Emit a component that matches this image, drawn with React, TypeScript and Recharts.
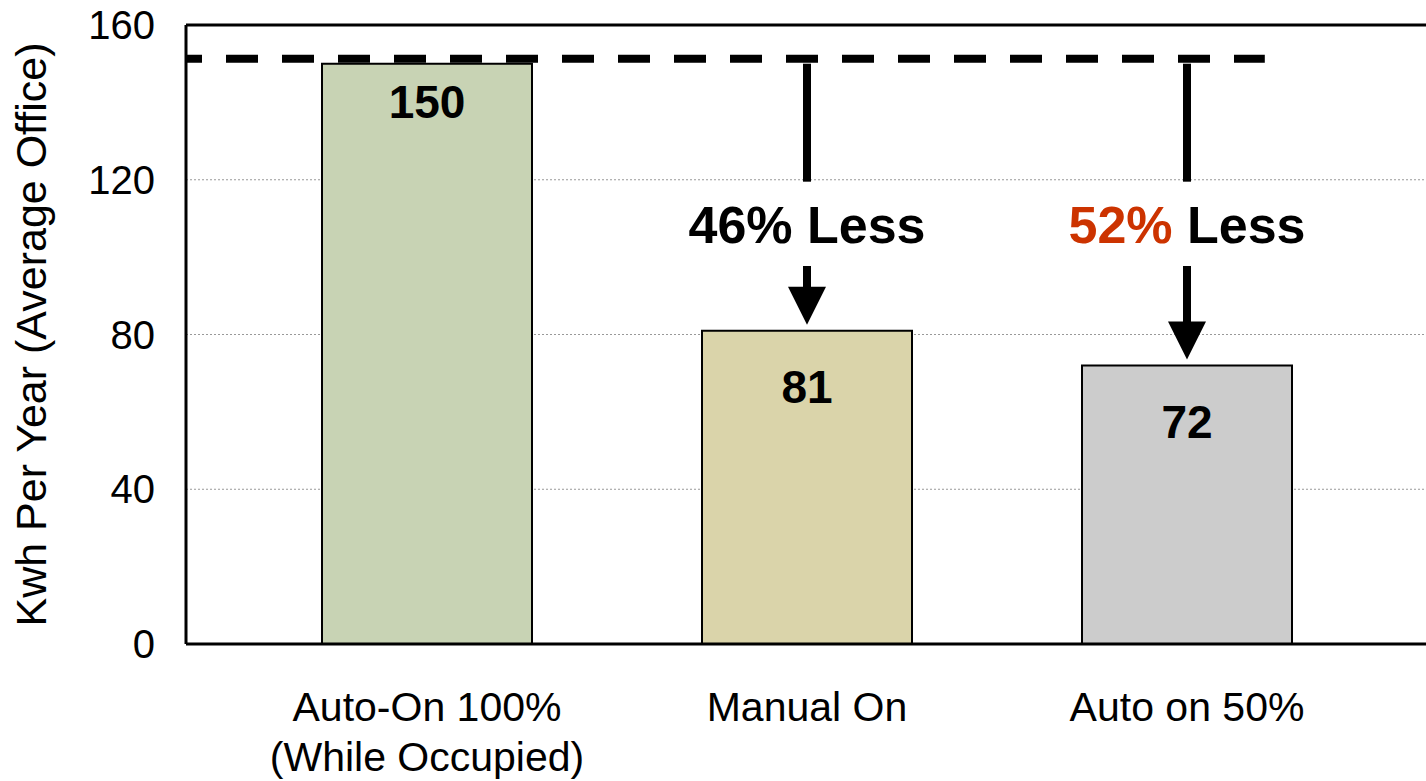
import React from "react";
import {
  BarChart,
  Bar,
  Cell,
  XAxis,
  YAxis,
  CartesianGrid,
  ReferenceLine,
  ReferenceDot,
  LabelList,
} from "recharts";

const categories = ["Auto-On 100%\n(While Occupied)", "Manual On", "Auto on 50%"];
const kwhPerYear = [150, 81, 72];
const barColors = ["#C8D3B4", "#DAD4AA", "#CCCCCC"];
const yTicks = [0, 40, 80, 120, 160];

// dashed reference level (the Auto-On 100% usage) and the savings arrows
const baselineKwh = 151.3;
const savingsCategories = ["Manual On", "Auto on 50%"];
const savingsTargets = [81, 72];
const savingsPct = ["46%", "52%"];
const savingsPctColors = ["#000000", "#CC3300"];

// annotation levels, in kWh units
const arrowStart = 150;
const arrowGapTop = 119.5;
const arrowGapBottom = 97.7;
const savingsTextLevel = 103.7;
// dashed line stops at this share of the plot width
const baselineEnd = 0.87;

const FONT = '"Liberation Sans", Arial, sans-serif';
const labelOffsets = [22, 40, 40];

const data = categories.map((name, i) => ({ name, kwh: kwhPerYear[i] }));

const CategoryTick = ({ x, y, payload }: any) => {
  const lines = String(payload.value).split("\n");
  return (
    <text x={x} y={y} textAnchor="middle" fontSize={41} fontFamily={FONT} fill="#000">
      {lines.map((l, i) => (
        <tspan key={i} x={x} dy={i === 0 ? "0.71em" : 50}>
          {l}
        </tspan>
      ))}
    </text>
  );
};

const BarValueLabel = (props: any) => {
  const vb = props.viewBox || props;
  const idx = props.index ?? kwhPerYear.indexOf(Number(props.value));
  return (
    <text
      x={vb.x + vb.width / 2}
      y={vb.y + (labelOffsets[idx] ?? 40)}
      dy="0.71em"
      textAnchor="middle"
      fontSize={46}
      fontWeight="bold"
      fontFamily={FONT}
      fill="#000"
    >
      {props.value}
    </text>
  );
};

const DashedBaseline = (props: any) => {
  const { x1, y1, x2 } = props;
  const end = x1 + (x2 - x1) * baselineEnd;
  return (
    <line
      x1={x1}
      y1={y1}
      x2={end}
      y2={y1}
      stroke="#000"
      strokeWidth={8}
      strokeDasharray="32 24"
      strokeDashoffset={16}
    />
  );
};

const ArrowHead = (props: any) => {
  const { x1, y1, y2 } = props;
  const tip = y2 - 6;
  const base = tip - 38;
  return (
    <g>
      <line x1={x1} y1={y1} x2={x1} y2={base + 1} stroke="#000" strokeWidth={8} />
      <polygon points={`${x1 - 19},${base} ${x1 + 19},${base} ${x1},${tip}`} fill="#000" />
    </g>
  );
};

const savingsText = (i: number) => (props: any) => (
  <text
    x={props.cx}
    y={props.cy}
    textAnchor="middle"
    fontSize={52}
    fontWeight="bold"
    fontFamily={FONT}
    fill="#000"
  >
    <tspan fill={savingsPctColors[i]}>{savingsPct[i]}</tspan>
    <tspan> Less</tspan>
  </text>
);

export default function App() {
  return (
    <div style={{ position: "absolute", left: 0, top: 0, background: "#fff" }}>
      <BarChart
        width={1426}
        height={781}
        data={data}
        margin={{ top: 25, right: 0, bottom: 0, left: 0 }}
      >
        <CartesianGrid vertical={false} stroke="#999" strokeDasharray="2 2" />
        <XAxis
          dataKey="name"
          height={137}
          padding={{ left: 51, right: 49 }}
          tickLine={false}
          tickSize={0}
          tickMargin={48}
          axisLine={{ stroke: "#000", strokeWidth: 3 }}
          tick={<CategoryTick />}
          interval={0}
        />
        <YAxis
          width={186}
          domain={[0, 160]}
          ticks={yTicks}
          tickLine={false}
          tickSize={0}
          tickMargin={31}
          axisLine={{ stroke: "#000", strokeWidth: 3 }}
          tick={{ fontSize: 40, fill: "#000", fontFamily: FONT }}
          label={{
            value: "Kwh Per Year (Average Office)",
            angle: -90,
            position: "insideLeft",
            offset: 31,
            style: { textAnchor: "middle", fontSize: 43, fill: "#000", fontFamily: FONT },
          }}
        />
        <Bar dataKey="kwh" barSize={210} stroke="#000" strokeWidth={2} isAnimationActive={false}>
          {data.map((d, i) => (
            <Cell key={d.name} fill={barColors[i]} />
          ))}
          <LabelList dataKey="kwh" position="insideTop" content={<BarValueLabel />} />
        </Bar>
        <ReferenceLine y={160} stroke="#000" strokeWidth={3} />
        <ReferenceLine y={baselineKwh} shape={DashedBaseline} />
        {savingsCategories.map((cat) => (
          <ReferenceLine
            key={`top-${cat}`}
            segment={[
              { x: cat, y: arrowStart },
              { x: cat, y: arrowGapTop },
            ]}
            stroke="#000"
            strokeWidth={8}
          />
        ))}
        {savingsCategories.map((cat, i) => (
          <ReferenceLine
            key={`head-${cat}`}
            segment={[
              { x: cat, y: arrowGapBottom },
              { x: cat, y: savingsTargets[i] },
            ]}
            shape={ArrowHead}
          />
        ))}
        {savingsCategories.map((cat, i) => (
          <ReferenceDot
            key={`txt-${cat}`}
            x={cat}
            y={savingsTextLevel}
            r={0}
            shape={savingsText(i)}
          />
        ))}
      </BarChart>
    </div>
  );
}
